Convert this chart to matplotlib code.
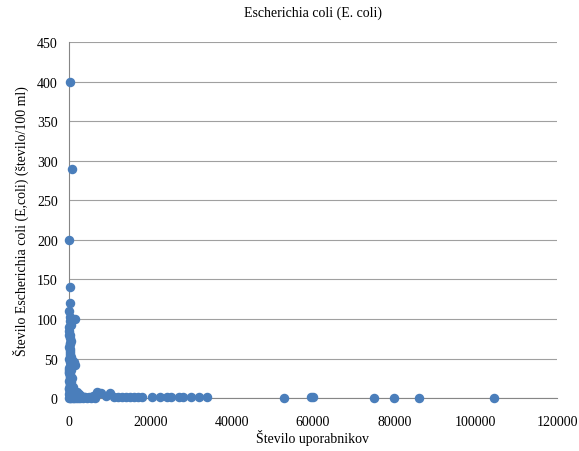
import numpy as np
import matplotlib.pyplot as plt

plt.rcParams['font.family'] = ['Liberation Serif', 'DejaVu Serif']

# število uporabnikov / E. coli (število/100 ml)
uporabniki = [200, 800, 100, 150, 250, 100, 300, 1500, 200, 400, 50, 300, 150, 600,
              100, 350, 200, 100, 400, 700, 1500, 1200, 250, 100, 500, 150, 300, 800,
              100, 600, 200, 400, 1000, 150, 700, 2000, 300, 1200, 2500, 100, 3000,
              500, 4000, 5000, 6000, 7000, 7500, 8000, 9000, 10000, 11000, 12000,
              13000, 14000, 15000, 16000, 17000, 18000, 20500, 22500, 24000, 25000,
              27000, 28000, 30000, 32000, 34000, 53000, 59500, 60000, 75000, 80000,
              86000, 104500,
              50, 300, 600, 900, 1300, 1800, 2200, 2800, 3500, 4500, 5500, 6500,
              200, 500, 800, 1100, 100, 400,
              50, 100, 150, 200, 250, 300, 350, 400, 50, 100, 150, 200, 250, 300,
              50, 100, 150, 200, 250, 300, 350, 450, 500, 600, 700, 900, 1000,
              1300, 1600, 1900, 2300, 2700, 3200, 3800]
ecoli = [400, 290, 200, 140, 120, 110, 103, 100, 98, 93, 80, 80, 70, 72,
         65, 62, 55, 50, 52, 48, 42, 45, 40, 38, 35, 30, 28, 25,
         22, 20, 18, 15, 14, 12, 10, 8, 8, 6, 5, 5, 3,
         3, 2, 2, 3, 8, 7, 6, 3, 6, 2, 1,
         1, 1, 1, 1, 1, 1, 1, 1, 1, 1,
         1, 1, 1, 1, 1, 0, 1, 2, 0, 0,
         0, 0,
         0, 0, 0, 0, 0, 0, 0, 0, 0, 0, 0, 0,
         2, 1, 4, 3, 33, 26,
         90, 85, 76, 68, 60, 57, 45, 44, 36, 32, 27, 24, 20, 17,
         13, 11, 9, 7, 6, 5, 4, 12, 9, 7, 5, 4, 3,
         6, 4, 3, 2, 1, 2, 1]

fig = plt.figure(figsize=(5.79, 4.52), dpi=100)
ax = fig.add_axes([0.119, 0.117, 0.843, 0.788])

ax.scatter(uporabniki, ecoli, s=34, color='#4a7ebb', zorder=3, clip_on=False)

ax.set_xlim(0, 120000)
ax.set_ylim(0, 450)
ax.set_xticks(np.arange(0, 120001, 20000))
ax.set_yticks(np.arange(0, 451, 50))
ax.yaxis.grid(True, color='#a0a0a0', linewidth=0.8)
ax.set_axisbelow(True)
for s in ['top', 'right']:
    ax.spines[s].set_visible(False)
for s in ['left', 'bottom']:
    ax.spines[s].set_color('#868686')
ax.tick_params(axis='x', length=0, labelsize=10, pad=12)
ax.tick_params(axis='y', length=0, labelsize=10, pad=8)

ax.set_title('Escherichia coli (E. coli)', fontsize=10, pad=19)
ax.set_xlabel('Število uporabnikov', fontsize=10, labelpad=1)
ax.set_ylabel('Število Escherichia coli (E,coli) (število/100 ml)', fontsize=10, labelpad=6)

plt.savefig('out.png', dpi=100)
